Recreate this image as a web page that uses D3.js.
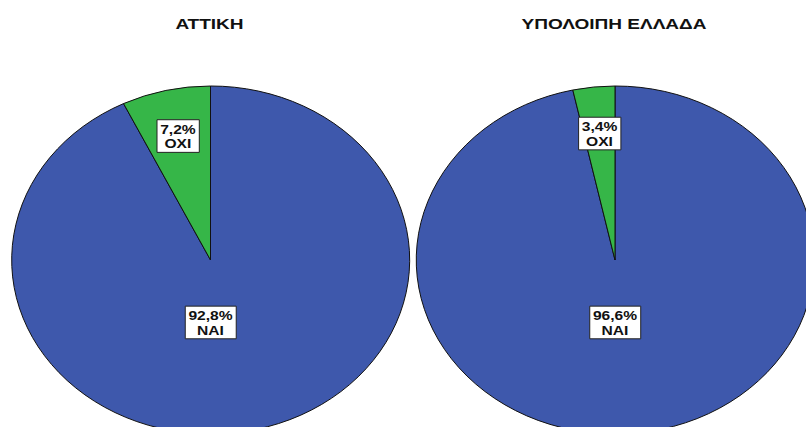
<!DOCTYPE html>
<html>
<head>
<meta charset="utf-8">
<script src="https://cdn.jsdelivr.net/npm/d3@7"></script>
<style>
  html, body { margin: 0; padding: 0; background: #fff; overflow: hidden; }
  svg { display: block; }
</style>
</head>
<body>
<svg id="chart" width="806" height="427"></svg>
<script>
// Answer categories and percentages per region
const categories = ["ΝΑΙ", "ΟΧΙ"];
const regions = ["ΑΤΤΙΚΗ", "ΥΠΟΛΟΙΠΗ ΕΛΛΑΔΑ"];
const atticaValues = [92.8, 7.2];
const restValues = [96.6, 3.4];
const colors = ["#3E58AC", "#36B648"];

const svg = d3.select("#chart");

// One pie per region, stretched horizontally into an ellipse
const centerX = d3.scalePoint().domain(regions).range([210.5, 615]);
const rx = 199, ry = 174, cy = 260, titleY = 28.5;
const stretchTitle = 1.36, stretchLabel = 1.25;
const font = "Liberation Sans, Arial, sans-serif";

const pie = d3.pie().sort(null).value(d => d);
const arc = d3.arc().innerRadius(0).outerRadius(1);

// label distance from the centre, as a fraction of the radius
const labelRadius = [0.36, 0.73];

function drawPie(name, values) {
  const cx = centerX(name);

  svg.append("text")
    .attr("transform", `translate(${cx - 1},${titleY}) scale(${stretchTitle},1)`)
    .attr("text-anchor", "middle")
    .attr("font-family", font)
    .attr("font-weight", "bold")
    .attr("font-size", 14)
    .attr("fill", "#111")
    .text(name);

  const slices = pie(values);
  const g = svg.append("g")
    .attr("transform", `translate(${cx},${cy}) scale(${rx},${ry})`);
  g.selectAll("path")
    .data(slices)
    .join("path")
    .attr("d", arc)
    .attr("fill", (d, i) => colors[i])
    .attr("stroke", "#111")
    .attr("stroke-width", 1)
    .attr("vector-effect", "non-scaling-stroke");

  // percentage labels in white boxes
  slices.forEach((d, i) => {
    const mid = (d.startAngle + d.endAngle) / 2;
    const a = d.data > 50 ? Math.PI : mid;
    const lx = cx + Math.sin(a) * labelRadius[i] * rx;
    const ly = cy - Math.cos(a) * labelRadius[i] * ry;
    const lg = svg.append("g")
      .attr("transform", `translate(${lx},${ly}) scale(${stretchLabel},1)`);
    const txt = lg.append("text")
      .attr("text-anchor", "middle")
      .attr("font-family", font)
      .attr("font-weight", "bold")
      .attr("font-size", 12.5)
      .attr("fill", "#111");
    txt.append("tspan").attr("x", 0).attr("y", -2.5)
      .text(d3.format(".1f")(d.data).replace(".", ",") + "%");
    txt.append("tspan").attr("x", 0).attr("y", 12).text(categories[i]);
    const bb = txt.node().getBBox();
    lg.insert("rect", "text")
      .attr("x", bb.x - 2.5).attr("y", bb.y - 2.5)
      .attr("width", bb.width + 5).attr("height", bb.height + 4)
      .attr("fill", "#fff")
      .attr("stroke", "#222")
      .attr("stroke-width", 1)
      .attr("vector-effect", "non-scaling-stroke");
  });
}

drawPie(regions[0], atticaValues);
drawPie(regions[1], restValues);
</script>
</body>
</html>
